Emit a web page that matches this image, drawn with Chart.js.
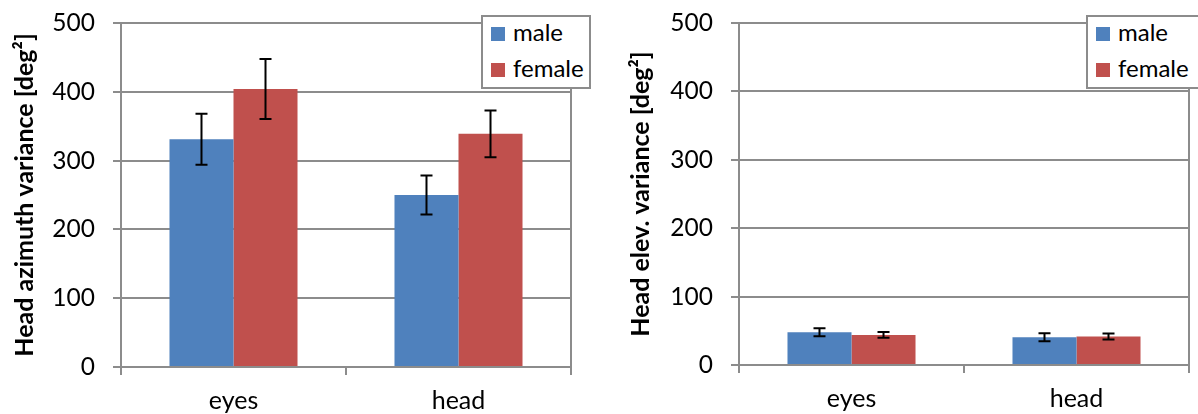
<!DOCTYPE html>
<html>
<head>
<meta charset="utf-8">
<script src="https://cdn.jsdelivr.net/npm/chart.js@4"></script>
<style>
    html, body { margin: 0; padding: 0; background: #fff; overflow: hidden; }
    body { width: 1198px; height: 414px; position: relative; font-family: Lato, sans-serif; }
    canvas { position: absolute; top: 0; }
    #left-chart { left: 0; }
    #right-chart { left: 600px; }
    .legend {
        position: absolute; top: 15px; height: 70px;
        border: 2px solid #8c8c8c; background: #fff; box-sizing: content-box;
    }
    .legend-item { position: absolute; left: 8px; font-size: 24px; line-height: 24px; color: #000; white-space: nowrap; }
    .legend-item span.swatch { position: absolute; left: 0; top: 7px; width: 14px; height: 14px; }
    .legend-item span.label { position: absolute; left: 22px; top: 0; }
</style>
</head>
<body>
<canvas id="left-chart" width="600" height="414"></canvas>
<canvas id="right-chart" width="598" height="414"></canvas>
<div class="legend" id="left-legend" style="left:481px;width:106px"></div>
<div class="legend" id="right-legend" style="left:1086px;width:112px"></div>
<script>
const categories = ['eyes', 'head'];
const seriesNames = ['male', 'female'];
const seriesColors = ['#4f81bd', '#c0504d'];

// left panel: head azimuth variance
const azimuthMale = [331, 250];
const azimuthFemale = [404, 339];
const azimuthMaleErr = [37, 28.5];
const azimuthFemaleErr = [43.5, 34];

// right panel: head elevation variance
const elevMale = [48, 40.5];
const elevFemale = [44, 41.5];
const elevMaleErr = [5.8, 5.8];
const elevFemaleErr = [4.2, 4.4];

const yMin = 0;
const yMax = 500;
const yStep = 100;

const gridGray = '#8c8c8c';

const errorBarPlugin = {
    id: 'errorBars',
    afterDatasetsDraw(chart) {
        const { ctx, scales: { y } } = chart;
        ctx.save();
        ctx.strokeStyle = '#000';
        ctx.lineWidth = 2;
        chart.data.datasets.forEach((ds, di) => {
            const meta = chart.getDatasetMeta(di);
            meta.data.forEach((bar, i) => {
                const v = ds.data[i];
                const e = ds.errors[i];
                const top = y.getPixelForValue(v + e);
                const bot = y.getPixelForValue(v - e);
                ctx.beginPath();
                ctx.moveTo(bar.x, top);
                ctx.lineTo(bar.x, bot);
                ctx.moveTo(bar.x - 6, top);
                ctx.lineTo(bar.x + 6, top);
                ctx.moveTo(bar.x - 6, bot);
                ctx.lineTo(bar.x + 6, bot);
                ctx.stroke();
            });
        });
        ctx.restore();
    }
};

function makeChart(canvasId, title, male, female, maleErr, femaleErr, layout) {
    return new Chart(document.getElementById(canvasId), {
        type: 'bar',
        data: {
            labels: categories,
            datasets: [
                { label: seriesNames[0], data: male, errors: maleErr, backgroundColor: seriesColors[0] },
                { label: seriesNames[1], data: female, errors: femaleErr, backgroundColor: seriesColors[1] }
            ]
        },
        options: {
            responsive: false,
            animation: false,
            categoryPercentage: 0.569,
            barPercentage: 1.0,
            layout: { padding: { left: layout.left, top: 23, right: layout.right, bottom: 0 } },
            plugins: { legend: { display: false }, tooltip: { enabled: false } },
            scales: {
                x: {
                    afterFit: (s) => { s.height = layout.xHeight; },
                    border: { display: true, color: gridGray, width: 2 },
                    grid: {
                        color: (c) => c.index === 1 ? 'rgba(0,0,0,0)' : gridGray,
                        tickColor: gridGray,
                        lineWidth: 2,
                        tickLength: 8
                    },
                    ticks: { color: '#000', font: { family: 'Lato', size: 25 }, padding: 11 }
                },
                y: {
                    min: yMin,
                    max: yMax,
                    afterFit: (s) => { s.width = layout.yWidth; s.paddingTop = 0; s.paddingBottom = 0; },
                    border: { display: true, color: gridGray, width: 2 },
                    grid: { color: gridGray, tickColor: gridGray, lineWidth: 2, tickLength: 8 },
                    ticks: { stepSize: yStep, color: '#000', font: { family: 'Lato', size: 24.5 }, padding: 18 },
                    title: {
                        display: true,
                        text: title,
                        color: '#000',
                        font: { family: 'Lato', size: 25, weight: 'bold' },
                        padding: { top: 0, bottom: 0 }
                    }
                }
            }
        },
        plugins: [errorBarPlugin]
    });
}

function buildLegend(id) {
    const box = document.getElementById(id);
    seriesNames.forEach((name, i) => {
        const item = document.createElement('div');
        item.className = 'legend-item';
        item.style.top = (3 + i * 36) + 'px';
        item.innerHTML = `<span class="swatch" style="background:${seriesColors[i]}"></span><span class="label">${name}</span>`;
        box.appendChild(item);
    });
}

makeChart('left-chart', 'Head azimuth variance [deg²]', azimuthMale, azimuthFemale, azimuthMaleErr, azimuthFemaleErr,
    { left: 10, right: 29, yWidth: 111, xHeight: 47 });
makeChart('right-chart', 'Head elev. variance [deg²]', elevMale, elevFemale, elevMaleErr, elevFemaleErr,
    { left: 26, right: 9, yWidth: 113, xHeight: 49 });

buildLegend('left-legend');
buildLegend('right-legend');
</script>
</body>
</html>
